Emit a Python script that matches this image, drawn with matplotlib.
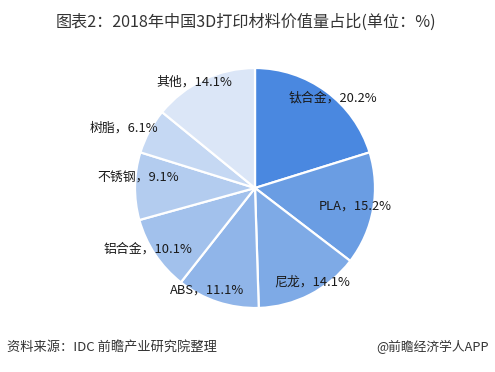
import numpy as np
import matplotlib.pyplot as plt

plt.rcParams["font.family"] = ["Noto Sans CJK SC", "DejaVu Sans"]

materials = ["钛合金", "PLA", "尼龙", "ABS", "铝合金", "不锈钢", "树脂", "其他"]
shares = [20.2, 15.2, 14.1, 11.1, 10.1, 9.1, 6.1, 14.1]

colors = ["#4a88e0", "#6a9de3", "#7eaae6", "#90b5e9", "#a2c1ec",
          "#b3ccef", "#c5d8f3", "#dbe6f7"]
# label placement: radius factor and angular shift (deg, clockwise positive)
label_r = [0.99, 0.85, 0.92, 0.94, 1.03, 0.98, 1.20, 1.02]
label_shift = [4.5, 0.0, -4.0, 7.0, 4.0, 4.0, -3.5, -4.5]


def main():
    fig = plt.figure(figsize=(4.95, 3.72), dpi=100)
    ax = fig.add_axes([135 / 495, 64 / 372, 240 / 495, 240 / 372])

    wedges, _ = ax.pie(
        shares,
        colors=colors,
        startangle=90,
        counterclock=False,
        radius=1.0,
        wedgeprops=dict(edgecolor="white", linewidth=1.6),
    )
    ax.set_xlim(-1, 1)
    ax.set_ylim(-1, 1)
    ax.set_aspect("equal")
    ax.axis("off")

    for w, name, val, rf, sh in zip(wedges, materials, shares, label_r, label_shift):
        ang = np.deg2rad((w.theta1 + w.theta2) / 2 - sh)
        ax.text(rf * np.cos(ang), rf * np.sin(ang), f"{name}，{val}%",
                ha="center", va="center", fontsize=9.3, color="#1a1a1a")

    fig.text(0.497, 1 - 22 / 372, "图表2：2018年中国3D打印材料价值量占比(单位：%)",
             ha="center", va="center", fontsize=11.6, color="#333333")
    fig.text(7 / 495, 1 - 347 / 372, "资料来源：IDC 前瞻产业研究院整理",
             ha="left", va="center", fontsize=9.5, color="#333333", style="italic")
    fig.text(489 / 495, 1 - 347 / 372, "@前瞻经济学人APP",
             ha="right", va="center", fontsize=9.2, color="#333333")

    fig.savefig("out.png", dpi=100, facecolor="white")


if __name__ == "__main__":
    main()
